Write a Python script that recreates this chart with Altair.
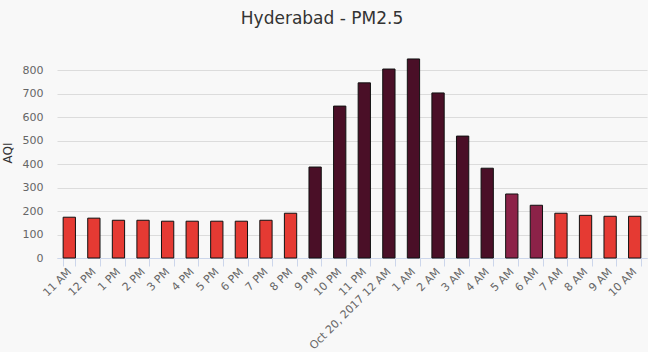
import altair as alt
import pandas as pd

hours = ["11 AM", "12 PM", "1 PM", "2 PM", "3 PM", "4 PM", "5 PM", "6 PM", "7 PM",
         "8 PM", "9 PM", "10 PM", "11 PM", "Oct 20, 2017 12 AM", "1 AM", "2 AM",
         "3 AM", "4 AM", "5 AM", "6 AM", "7 AM", "8 AM", "9 AM", "10 AM"]
aqi = [174, 170, 161, 161, 157, 157, 157, 157, 161, 191, 388, 648, 747, 806,
       849, 704, 520, 383, 273, 225, 191, 182, 178, 178]
level = ["Poor"] * 10 + ["Severe"] * 8 + ["Very Poor"] * 2 + ["Poor"] * 4

level_names = ["Poor", "Very Poor", "Severe"]
level_colors = ["#e53a33", "#8c2248", "#4a0f27"]
y_ticks = [0, 100, 200, 300, 400, 500, 600, 700, 800]

df = pd.DataFrame({"hour": hours, "aqi": aqi, "level": level})

chart = alt.Chart(df).mark_bar(stroke="#111111", strokeWidth=1).encode(
    x=alt.X("hour:N", sort=hours, title=None,
            scale=alt.Scale(paddingInner=0.5, paddingOuter=0.25),
            axis=alt.Axis(labelAngle=-45, labelAlign="right", labelBaseline="middle",
                          tickBand="extent", tickSize=8, tickColor="#ccd6eb",
                          domainColor="#ccd6eb", labelColor="#666666", labelFontSize=11,
                          labelPadding=4, labelFont="DejaVu Sans", labelLimit=200)),
    y=alt.Y("aqi:Q", title="AQI",
            scale=alt.Scale(domain=[0, 900], nice=False),
            axis=alt.Axis(values=y_ticks, ticks=False, domain=False, gridColor="#dcdcdc",
                          labelColor="#666666", labelFontSize=11, labelPadding=14,
                          labelFont="DejaVu Sans", titleFont="DejaVu Sans",
                          titleFontSize=12, titleFontWeight="normal", titleColor="#333333",
                          titlePadding=8)),
    color=alt.Color("level:N", scale=alt.Scale(domain=level_names, range=level_colors),
                    legend=None),
).properties(
    width=590,
    height=211,
    title=alt.TitleParams("Hyderabad - PM2.5", fontSize=17, font="DejaVu Sans",
                          fontWeight="normal", color="#333333", offset=19, dx=-30),
    autosize=alt.AutoSizeParams(type="none"),
    padding={"left": 57, "top": 47, "right": 1, "bottom": 94},
    background="#f8f8f8",
).configure_view(stroke=None)

chart.save("out.html", embed_options={"renderer": "svg", "actions": False})
